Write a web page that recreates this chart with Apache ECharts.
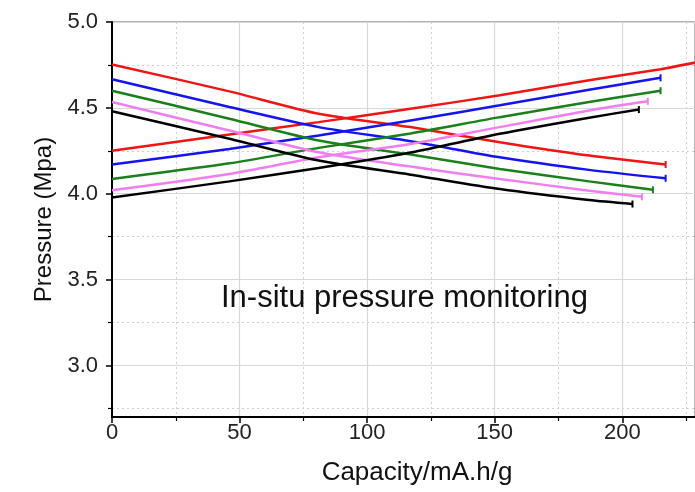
<!DOCTYPE html>
<html>
<head>
<meta charset="utf-8">
<script src="https://cdn.jsdelivr.net/npm/echarts@6/dist/echarts.min.js"></script>
<style>html,body{margin:0;padding:0;background:#fff}#c{width:695px;height:492px}</style>
</head>
<body>
<div id="c"></div>
<script>
// ---- data (Capacity mA.h/g, Pressure MPa) ----
const xMajorTicks = [0, 50, 100, 150, 200];
const xMinorTicks = [25, 75, 125, 175, 225];
const yMajorTicks = [3.0, 3.5, 4.0, 4.5, 5.0];
const yMinorTicks = [2.75, 3.25, 3.75, 4.25, 4.75];

const redFalling    = [[0,4.753],[46,4.596],[81,4.466],[117,4.388],[152,4.300],[187,4.222],[217,4.170]];
const redRising     = [[0,4.250],[46,4.345],[81,4.417],[117,4.495],[152,4.573],[187,4.661],[215,4.725],[229,4.765]];
const blueFalling   = [[0,4.667],[46,4.505],[81,4.388],[117,4.306],[152,4.212],[187,4.139],[217,4.090]];
const blueRising    = [[0,4.170],[46,4.261],[81,4.339],[117,4.427],[152,4.515],[187,4.606],[215,4.675]];
const greenFalling  = [[0,4.600],[46,4.437],[81,4.310],[117,4.228],[152,4.144],[187,4.072],[212,4.023]];
const greenRising   = [[0,4.086],[46,4.177],[81,4.267],[117,4.351],[152,4.446],[187,4.534],[215,4.600]];
const violetFalling = [[0,4.534],[46,4.368],[81,4.241],[117,4.158],[152,4.086],[187,4.018],[207.7,3.982]];
const violetRising  = [[0,4.020],[46,4.115],[81,4.212],[117,4.289],[152,4.388],[187,4.485],[210,4.538]];
const blackFalling  = [[0,4.480],[46,4.320],[81,4.193],[117,4.111],[152,4.027],[187,3.963],[204,3.940]];
const blackRising   = [[0,3.978],[46,4.072],[81,4.150],[117,4.240],[152,4.349],[187,4.443],[206.5,4.490]];

const seriesDefs = [
  {data: redFalling,    color: '#f01414', end: true},
  {data: redRising,     color: '#f01414', end: false},
  {data: blueFalling,   color: '#1414f0', end: true},
  {data: blueRising,    color: '#1414f0', end: true},
  {data: greenFalling,  color: '#1a801a', end: true},
  {data: greenRising,   color: '#1a801a', end: true},
  {data: violetFalling, color: '#f07ef0', end: true},
  {data: violetRising,  color: '#f07ef0', end: true},
  {data: blackFalling,  color: '#000000', end: true},
  {data: blackRising,   color: '#000000', end: true}
];

const FONT = '"Liberation Sans", Arial, sans-serif';
const chart = echarts.init(document.getElementById('c'), null, {renderer: 'canvas'});

const series = seriesDefs.map(s => ({
  type: 'line',
  xAxisIndex: 0, yAxisIndex: 0,
  smooth: 0.25,
  symbol: 'none',
  showSymbol: true,
  showAllSymbol: true,
  silent: true,
  animation: false,
  lineStyle: {color: s.color, width: 2.5},
  itemStyle: {color: s.color},
  data: s.data.map((p, i) => (s.end && i === s.data.length - 1)
    ? {value: p, symbol: 'rect', symbolSize: [2, 7]}
    : p)
}));

chart.setOption({
  animation: false,
  backgroundColor: '#fff',
  grid: {left: 112, top: 22, right: 0, bottom: 75, show: true, borderColor: '#666', borderWidth: 1, backgroundColor: 'transparent'},
  xAxis: [
    {
      type: 'value', min: 0, max: 228.5, position: 'bottom',
      axisLine: {show: true, onZero: false, lineStyle: {color: '#000', width: 2}},
      axisTick: {show: true, inside: false, length: 6, customValues: xMajorTicks, lineStyle: {color: '#000', width: 1.5}},
      axisLabel: {show: true, customValues: xMajorTicks, margin: 5, fontSize: 22, color: '#222', fontFamily: FONT},
      splitLine: {show: true, lineStyle: {color: '#d8d8d8', width: 1.2, type: 'solid'}},
      name: 'Capacity/mA.h/g', nameLocation: 'middle', nameGap: 43,
      nameTextStyle: {fontSize: 26, color: '#111', fontFamily: FONT, padding: [0, 0, 0, 27]}
    },
    {
      type: 'value', min: 0, max: 228.5, position: 'bottom',
      axisLine: {show: false},
      axisTick: {show: true, inside: false, length: 4, customValues: xMinorTicks, lineStyle: {color: '#000', width: 1.2}},
      axisLabel: {show: false},
      splitLine: {show: true, lineStyle: {color: '#d0d0d0', width: 1, type: [2, 3]}}
    }
  ],
  yAxis: [
    {
      type: 'value', min: 2.7, max: 5.0, position: 'left',
      axisLine: {show: true, onZero: false, lineStyle: {color: '#000', width: 2}},
      axisTick: {show: true, inside: false, length: 6, customValues: yMajorTicks, lineStyle: {color: '#000', width: 1.5}},
      axisLabel: {show: true, customValues: yMajorTicks, margin: 14, fontSize: 22, color: '#222', fontFamily: FONT,
        formatter: v => Number(v).toFixed(1)},
      splitLine: {show: true, lineStyle: {color: '#d8d8d8', width: 1.2, type: 'solid'}},
      name: 'Pressure (Mpa)', nameLocation: 'middle', nameGap: 56, nameRotate: 90,
      nameTextStyle: {fontSize: 24, color: '#111', fontFamily: FONT}
    },
    {
      type: 'value', min: 2.7, max: 5.0, position: 'left',
      axisLine: {show: false},
      axisTick: {show: true, inside: false, length: 4, customValues: yMinorTicks, lineStyle: {color: '#000', width: 1.2}},
      axisLabel: {show: false},
      splitLine: {show: true, lineStyle: {color: '#d0d0d0', width: 1, type: [2, 3]}}
    }
  ],
  graphic: [
    {type: 'text', left: 221, top: 283, z: 100,
     style: {text: 'In-situ pressure monitoring', font: '31px "Liberation Sans", Arial, sans-serif', fill: '#111'}}
  ],
  series: series
});
</script>
</body>
</html>
